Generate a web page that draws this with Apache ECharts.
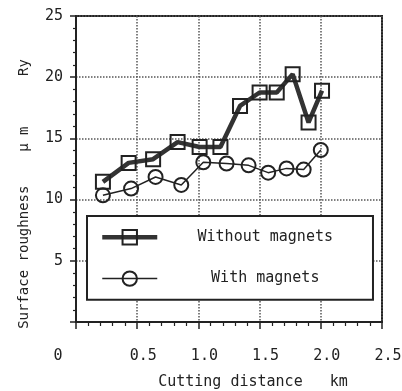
<!DOCTYPE html>
<html lang="en">
<head>
    <meta charset="UTF-8">
    <title>Surface roughness vs cutting distance</title>
    <script src="https://cdn.jsdelivr.net/npm/echarts@6/dist/echarts.min.js"></script>
    <style>
        html, body { margin: 0; padding: 0; background: #fff; }
        #chart { width: 402px; height: 391px; }
    </style>
</head>
<body>
    <div id="chart"></div>
    <script>
        // cutting distance (km) and Ry (um)
        const withoutX = [0.22, 0.43, 0.63, 0.83, 1.01, 1.18, 1.34, 1.50, 1.64, 1.77, 1.90, 2.01];
        const withoutY = [11.45, 13.0, 13.3, 14.7, 14.3, 14.3, 17.65, 18.75, 18.75, 20.25, 16.3, 18.9];
        const withX = [0.22, 0.45, 0.65, 0.86, 1.04, 1.23, 1.41, 1.57, 1.72, 1.86, 2.0];
        const withY = [10.35, 10.9, 11.85, 11.2, 13.05, 12.95, 12.8, 12.2, 12.55, 12.45, 14.05];
        const xTicks = [0, 0.5, 1.0, 1.5, 2.0, 2.5];
        const yTicks = [0, 5, 10, 15, 20, 25];

        const font = 'DejaVu Sans Mono';
        const ink = '#222';

        const pairs = (xs, ys) => xs.map((x, i) => [x, ys[i]]);

        const chart = echarts.init(document.getElementById('chart'));
        chart.setOption({
            animation: false,
            grid: {
                left: 76, right: 20, top: 16, bottom: 69,
                outerBoundsMode: 'none',
                containLabel: false,
                show: true, borderColor: ink, borderWidth: 2
            },
            legend: {
                orient: 'vertical',
                left: 87, top: 216,
                padding: [13, 40, 13, 13],
                itemGap: 25,
                itemWidth: 55,
                itemHeight: 18,
                backgroundColor: '#fff',
                borderColor: ink,
                borderWidth: 2,
                formatter: name => '{t|' + name + '}',
                textStyle: {
                    rich: { t: { width: 206, align: 'center', fontFamily: font, fontSize: 15, color: ink } }
                },
                data: [
                    { name: 'Without magnets', lineStyle: { width: 4.5, color: '#333' } },
                    { name: 'With magnets', lineStyle: { width: 1.5, color: ink } }
                ]
            },
            xAxis: {
                type: 'value',
                min: xTicks[0], max: xTicks[xTicks.length - 1], interval: 0.5,
                name: 'Cutting distance   km',
                nameLocation: 'middle',
                nameGap: 53,
                nameTextStyle: { fontFamily: font, fontSize: 15, color: ink, padding: [0, 0, 0, 48] },
                axisLine: { lineStyle: { color: ink, width: 2 } },
                axisTick: { show: true, inside: false, length: 7, lineStyle: { color: ink, width: 1.5 } },
                minorTick: { show: true, splitNumber: 5, length: 4, lineStyle: { color: ink, width: 1.2 } },
                axisLabel: {
                    margin: 27,
                    formatter: v => v === 0 ? '{z|0}' : '{n|' + v.toFixed(1) + '}',
                    rich: {
                        z: { fontFamily: font, fontSize: 15, color: ink, padding: [0, 36, 0, 0] },
                        n: { fontFamily: font, fontSize: 15, color: ink, padding: [0, 0, 0, 12] }
                    }
                },
                splitLine: { show: true, lineStyle: { color: '#555', type: 'dotted', width: 1.5 } }
            },
            yAxis: {
                type: 'value',
                min: yTicks[0], max: yTicks[yTicks.length - 1], interval: 5,
                name: 'Surface roughness    μ m      Ry',
                nameLocation: 'middle',
                nameGap: 45,
                nameTextStyle: { fontFamily: font, fontSize: 14, color: ink, padding: [0, 50, 0, 0] },
                axisLine: { show: true, lineStyle: { color: ink, width: 2 } },
                axisTick: { show: true, inside: false, length: 6, lineStyle: { color: ink, width: 1.5 } },
                minorTick: { show: true, splitNumber: 5, length: 3, lineStyle: { color: ink, width: 1.2 } },
                axisLabel: {
                    margin: 13,
                    fontFamily: font, fontSize: 15, color: ink,
                    formatter: v => v === 0 ? '' : String(v)
                },
                splitLine: { show: true, lineStyle: { color: '#555', type: 'dotted', width: 1.5 } }
            },
            series: [
                {
                    name: 'With magnets',
                    type: 'line',
                    data: pairs(withX, withY),
                    symbol: 'circle',
                    symbolSize: 14,
                    lineStyle: { color: ink, width: 1.5 },
                    itemStyle: { color: 'rgba(255,255,255,0)', borderColor: ink, borderWidth: 2 },
                    z: 3
                },
                {
                    name: 'Without magnets',
                    type: 'line',
                    data: pairs(withoutX, withoutY),
                    symbol: 'rect',
                    symbolSize: 14,
                    lineStyle: { color: '#333', width: 4.5 },
                    itemStyle: { color: 'rgba(255,255,255,0)', borderColor: ink, borderWidth: 2 },
                    z: 4
                }
            ]
        });
    </script>
</body>
</html>
